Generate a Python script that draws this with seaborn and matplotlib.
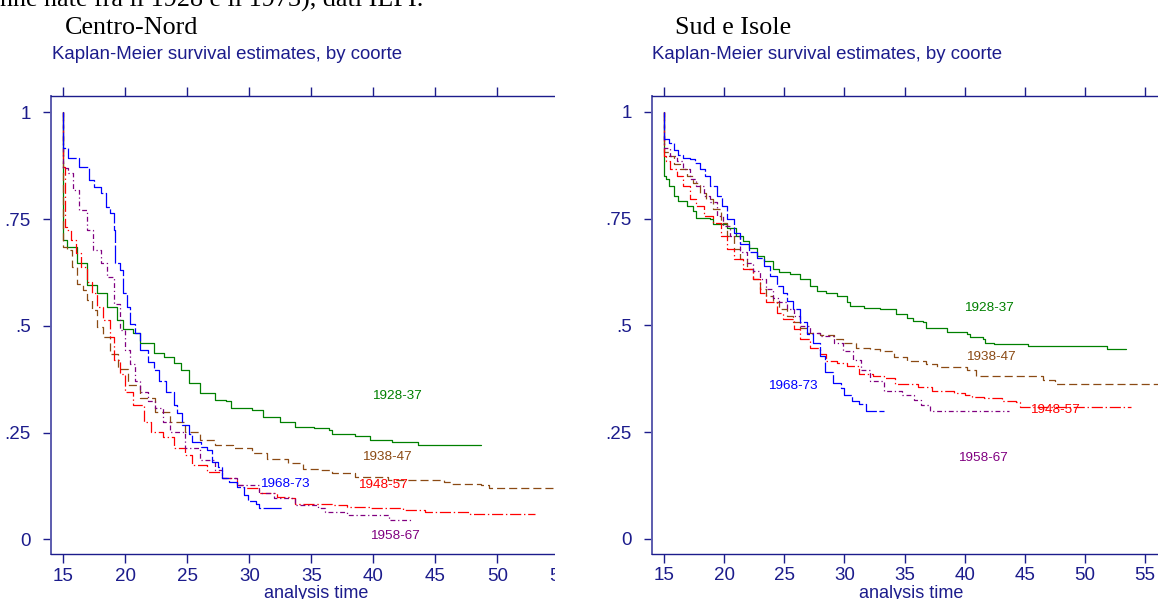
import matplotlib
matplotlib.use("Agg")
import matplotlib.pyplot as plt
import seaborn as sns
from matplotlib.patches import Rectangle

# ---------------- data ----------------
cohorts = ["1928-37", "1938-47", "1948-57", "1958-67", "1968-73"]

# Centro-Nord
cn_1928_x = [15, 15, 15.3, 16.1, 16.9, 17.7, 18.5, 19.3, 19.85, 20.65, 21.2, 22.3, 23.1, 23.9, 24.5, 25.1,
             26.0, 27.2, 28.1, 28.5, 30.2, 31.1, 32.5, 33.7, 35.2, 36.4, 36.7, 38.5, 39.7, 41.5, 43.6, 48.7]
cn_1928_y = [1.0, 0.70, 0.685, 0.646, 0.595, 0.576, 0.544, 0.513, 0.493, 0.483, 0.459, 0.436, 0.428, 0.4125,
             0.397, 0.366, 0.342, 0.327, 0.323, 0.307, 0.303, 0.2875, 0.276, 0.264, 0.262, 0.256, 0.247,
             0.243, 0.233, 0.229, 0.221, 0.221]
cn_1938_x = [15, 15, 15.3, 15.7, 16.1, 16.6, 16.9, 17.3, 17.7, 18.2, 18.8, 19.4, 20.2, 21.2, 22.4, 23.6,
             24.8, 26.0, 27.2, 28.7, 30.2, 31.4, 33.1, 34.3, 35.8, 36.7, 38.5, 41.2, 45.7, 46.3, 48.7,
             49.3, 56.5]
cn_1938_y = [1.0, 0.685, 0.677, 0.638, 0.599, 0.583, 0.56, 0.537, 0.497, 0.474, 0.435, 0.40, 0.362, 0.330,
             0.299, 0.276, 0.252, 0.233, 0.221, 0.213, 0.202, 0.188, 0.178, 0.166, 0.1625, 0.155, 0.147,
             0.139, 0.135, 0.129, 0.127, 0.121, 0.121]
cn_1948_x = [15, 15, 15.1, 15.3, 15.6, 16.0, 16.4, 16.9, 17.3, 17.7, 18.2, 18.8, 19.1, 19.6, 20.0, 20.6,
             21.5, 22.1, 23.0, 23.9, 24.8, 25.4, 26.6, 27.8, 29.0, 29.6, 30.8, 32.2, 33.4, 33.7, 36.7,
             37.9, 39.7, 42.4, 44.2, 47.8, 53.0]
cn_1948_y = [1.0, 0.872, 0.732, 0.724, 0.701, 0.67, 0.638, 0.603, 0.576, 0.544, 0.513, 0.474, 0.42, 0.388,
             0.346, 0.315, 0.276, 0.252, 0.241, 0.213, 0.198, 0.174, 0.159, 0.143, 0.127, 0.121, 0.108,
             0.100, 0.096, 0.084, 0.080, 0.077, 0.073, 0.069, 0.065, 0.059, 0.059]
cn_1958_x = [15, 15, 15.4, 15.8, 16.3, 16.9, 17.4, 18.0, 18.5, 19.1, 19.6, 20.0, 20.4, 20.8, 21.2, 21.8,
             22.4, 23.0, 23.6, 24.8, 26.0, 27.2, 27.8, 29.0, 30.8, 32.0, 33.7, 35.5, 36.1, 37.9, 41.3, 43.0]
cn_1958_y = [1.0, 0.869, 0.857, 0.818, 0.771, 0.724, 0.677, 0.646, 0.615, 0.552, 0.49, 0.443, 0.41, 0.37,
             0.346, 0.323, 0.307, 0.276, 0.252, 0.213, 0.186, 0.1625, 0.143, 0.127, 0.108, 0.096, 0.080,
             0.073, 0.065, 0.057, 0.045, 0.045]
cn_1968_x = [15, 15, 15.4, 16.3, 17.1, 17.5, 18.0, 18.4, 18.8, 19.1, 19.2, 19.6, 19.85, 20.1, 20.4, 20.8,
             21.2, 21.8, 22.3, 22.7, 23.3, 23.9, 24.2, 24.6, 25.1, 25.4, 26.1, 26.6, 27.0, 27.5, 27.8,
             28.4, 29.0, 29.6, 29.9, 30.5, 30.8, 32.7]
cn_1968_y = [1.0, 0.916, 0.892, 0.871, 0.841, 0.826, 0.81, 0.779, 0.764, 0.724, 0.647, 0.63, 0.576, 0.544,
             0.505, 0.483, 0.443, 0.416, 0.396, 0.37, 0.346, 0.315, 0.295, 0.268, 0.248, 0.229, 0.217,
             0.209, 0.182, 0.170, 0.143, 0.135, 0.123, 0.104, 0.09, 0.084, 0.074, 0.074]

# Sud e Isole
si_1928_x = [15, 15, 15.2, 15.4, 15.8, 16.2, 16.9, 17.4, 17.7, 18.8, 19.1, 20.2, 21.0, 21.6, 22.1, 22.7,
             23.3, 24.1, 24.6, 25.5, 26.3, 27.1, 27.7, 28.5, 29.4, 30.2, 30.5, 31.6, 33.0, 34.3, 35.2,
             35.7, 36.5, 36.8, 37.7, 38.5, 40.2, 40.4, 41.5, 41.7, 42.4, 45.3, 51.8, 53.4]
si_1928_y = [1.0, 0.85, 0.842, 0.826, 0.803, 0.791, 0.78, 0.768, 0.752, 0.749, 0.737, 0.729, 0.71, 0.698,
             0.682, 0.663, 0.651, 0.632, 0.624, 0.62, 0.608, 0.593, 0.581, 0.577, 0.569, 0.554, 0.546,
             0.542, 0.538, 0.526, 0.518, 0.51, 0.507, 0.495, 0.493, 0.485, 0.479, 0.472, 0.468, 0.459,
             0.456, 0.451, 0.446, 0.446]
si_1938_x = [15, 15, 15.4, 15.8, 16.3, 16.9, 17.4, 18.0, 18.5, 19.1, 19.7, 20.2, 20.8, 21.3, 21.9, 22.4,
             23.0, 23.5, 24.1, 24.6, 25.2, 25.75, 26.3, 26.9, 28.0, 29.1, 29.9, 31.0, 32.1, 33.0, 34.1,
             35.2, 36.8, 37.7, 40.2, 40.9, 46.5, 47.5, 57.0]
si_1938_y = [1.0, 0.905, 0.897, 0.877, 0.866, 0.85, 0.834, 0.811, 0.795, 0.772, 0.741, 0.71, 0.678, 0.655,
             0.632, 0.608, 0.585, 0.569, 0.554, 0.538, 0.522, 0.507, 0.495, 0.483, 0.477, 0.468, 0.46,
             0.448, 0.446, 0.44, 0.425, 0.416, 0.41, 0.403, 0.396, 0.382, 0.372, 0.363, 0.363]
si_1948_x = [15, 15, 15.2, 15.5, 16.1, 16.6, 17.2, 17.7, 18.3, 19.1, 19.7, 20.2, 20.8, 21.6, 22.4, 23.0,
             23.5, 24.4, 24.9, 25.8, 26.3, 27.1, 28.0, 28.5, 29.4, 30.2, 31.2, 32.4, 33.3, 34.2, 36.1,
             37.3, 39.1, 40.0, 40.6, 41.6, 43.1, 44.3, 44.6, 53.8]
si_1948_y = [1.0, 0.897, 0.885, 0.866, 0.85, 0.827, 0.795, 0.78, 0.756, 0.741, 0.71, 0.678, 0.655, 0.632,
             0.608, 0.577, 0.554, 0.53, 0.515, 0.491, 0.468, 0.448, 0.433, 0.417, 0.413, 0.405, 0.387,
             0.381, 0.377, 0.363, 0.357, 0.347, 0.342, 0.338, 0.332, 0.33, 0.324, 0.321, 0.31, 0.31]
si_1958_x = [15, 15, 15.5, 16.05, 16.6, 17.2, 17.7, 18.3, 18.8, 19.4, 19.9, 20.5, 21.3, 21.9, 22.4, 23.0,
             23.5, 24.1, 24.6, 25.2, 25.8, 26.3, 27.1, 28.0, 29.1, 29.9, 30.7, 31.4, 32.1, 33.3, 34.8,
             35.8, 36.4, 37.1, 43.7]
si_1958_y = [1.0, 0.916, 0.897, 0.885, 0.866, 0.842, 0.827, 0.803, 0.788, 0.756, 0.733, 0.71, 0.671, 0.647,
             0.628, 0.608, 0.585, 0.565, 0.554, 0.538, 0.522, 0.499, 0.483, 0.476, 0.46, 0.441, 0.42,
             0.396, 0.37, 0.347, 0.338, 0.326, 0.314, 0.299, 0.299]
si_1968_x = [15, 15, 15.4, 15.8, 16.2, 16.6, 17.2, 17.6, 18.0, 18.4, 18.8, 19.4, 19.8, 20.2, 20.8, 21.3,
             22.1, 22.7, 23.3, 23.8, 24.4, 24.9, 25.2, 25.75, 26.3, 26.9, 27.4, 28.0, 28.4, 29.05, 29.7,
             30.0, 30.6, 31.2, 31.8, 33.3]
si_1968_y = [1.0, 0.937, 0.928, 0.912, 0.9, 0.893, 0.889, 0.881, 0.866, 0.85, 0.827, 0.803, 0.78, 0.749,
             0.717, 0.69, 0.671, 0.659, 0.639, 0.616, 0.593, 0.577, 0.557, 0.538, 0.507, 0.48, 0.46, 0.429,
             0.39, 0.365, 0.353, 0.338, 0.324, 0.316, 0.3, 0.3]

x_ticks = [15, 20, 25, 30, 35, 40, 45, 50, 55]
y_ticks = [0, 0.25, 0.5, 0.75, 1]
y_tick_labels = ["0", ".25", ".5", ".75", "1"]

panel_titles = ["Centro-Nord", "Sud e Isole"]
subtitle = "Kaplan-Meier survival estimates, by coorte"
top_text = "nne nate fra il 1928 e il 1973), dati ILFI."
x_label = "analysis time"

# ---------------- styling ----------------
sns.set_theme(style="white")
plt.rcParams['font.family'] = ['Liberation Sans', 'DejaVu Sans']
plt.rcParams['lines.scale_dashes'] = False

NAVY = "#1c1c8c"
colors = {"1928-37": "#008000", "1938-47": "#8b4a14", "1948-57": "#ff0000",
          "1958-67": "#800080", "1968-73": "#0000ff"}
styles = {"1928-37": "-", "1938-47": (0, (5.8, 2.9)), "1948-57": (0, (8, 2, 1, 2)),
          "1958-67": (0, (3.5, 2, 0.9, 2)), "1968-73": (0, (13, 1.8))}

panels = [
    {"x": [cn_1928_x, cn_1938_x, cn_1948_x, cn_1958_x, cn_1968_x],
     "y": [cn_1928_y, cn_1938_y, cn_1948_y, cn_1958_y, cn_1968_y],
     "labels": {"1928-37": (41.9, 0.335), "1938-47": (41.1, 0.194), "1948-57": (40.8, 0.127),
                "1968-73": (32.9, 0.129), "1958-67": (41.7, 0.008)},
     "rect": [50.7, 554, 530.3, 458], "xlim": (13.98, 56.75)},
    {"x": [si_1928_x, si_1938_x, si_1948_x, si_1958_x, si_1968_x],
     "y": [si_1928_y, si_1938_y, si_1948_y, si_1958_y, si_1968_y],
     "labels": {"1928-37": (42.0, 0.54), "1938-47": (42.2, 0.427), "1948-57": (47.5, 0.303),
                "1968-73": (25.7, 0.359), "1958-67": (41.55, 0.19)},
     "rect": [651.7, 553.5, 519.3, 457.8], "xlim": (13.98, 57.15)},
]

W, H = 1158, 599
fig = plt.figure(figsize=(W / 100, H / 100), dpi=100)
fig.patch.set_facecolor("white")

for p in panels:
    l, b, w, h = p["rect"]
    ax = fig.add_axes([l / W, 1 - b / H, w / W, h / H])
    ax.set_facecolor("white")
    for c, xs, ys in zip(cohorts, p["x"], p["y"]):
        sns.lineplot(x=xs, y=ys, ax=ax, color=colors[c], linestyle=styles[c], linewidth=0.9,
                     drawstyle="steps-post", estimator=None, sort=False)
    for c, (tx, ty) in p["labels"].items():
        ax.text(tx, ty, c, color=colors[c], fontsize=9.7, ha="center", va="center")
    ax.set_xlim(*p["xlim"])
    ax.set_ylim(-0.034, 1.038)
    ax.set_xticks(x_ticks)
    ax.set_xticklabels([str(v) for v in x_ticks])
    ax.set_yticks(y_ticks)
    ax.set_yticklabels(y_tick_labels)
    ax.tick_params(axis="x", direction="out", length=6.8, width=1, color=NAVY, labelcolor=NAVY,
                   labelsize=13.5, pad=3, top=True, labeltop=False, bottom=True)
    ax.tick_params(axis="y", direction="out", length=6, width=1, color=NAVY, labelcolor=NAVY,
                   labelsize=13.5, pad=8.4, left=True)
    for s in ["left", "bottom", "top"]:
        ax.spines[s].set_visible(True)
        ax.spines[s].set_color(NAVY)
        ax.spines[s].set_linewidth(1.0)
    ax.spines["left"].set_linewidth(1.4)
    ax.spines["left"].set_color("#5c5cae")
    ax.spines["right"].set_visible(False)
    ax.grid(False)
    ax.set_xlabel(x_label, color=NAVY, fontsize=13, labelpad=0.5)
    ax.set_ylabel("")

# headings
fig.text(0 / W, 1 - 6.7 / H, top_text, family=["Liberation Serif", "DejaVu Serif"], fontsize=18.8,
         color="black", va="baseline", ha="left")
fig.text(64.6 / W, 1 - 34 / H, panel_titles[0], family=["Liberation Serif", "DejaVu Serif"],
         fontsize=18.8, color="black", va="baseline", ha="left")
fig.text(675 / W, 1 - 34 / H, panel_titles[1], family=["Liberation Serif", "DejaVu Serif"],
         fontsize=18.8, color="black", va="baseline", ha="left")
fig.text(51.7 / W, 1 - 59.3 / H, subtitle, fontsize=13.4, color=NAVY, va="baseline", ha="left")
fig.text(652 / W, 1 - 59.3 / H, subtitle, fontsize=13.4, color=NAVY, va="baseline", ha="left")

# crop of the left graph at its right edge, as in the reference
fig.add_artist(Rectangle((554.5 / W, 0), (600 - 554.5) / W, 1 - 80 / H, transform=fig.transFigure,
                         facecolor="white", edgecolor="none", zorder=10))

fig.savefig("out.png", dpi=100, facecolor="white")
